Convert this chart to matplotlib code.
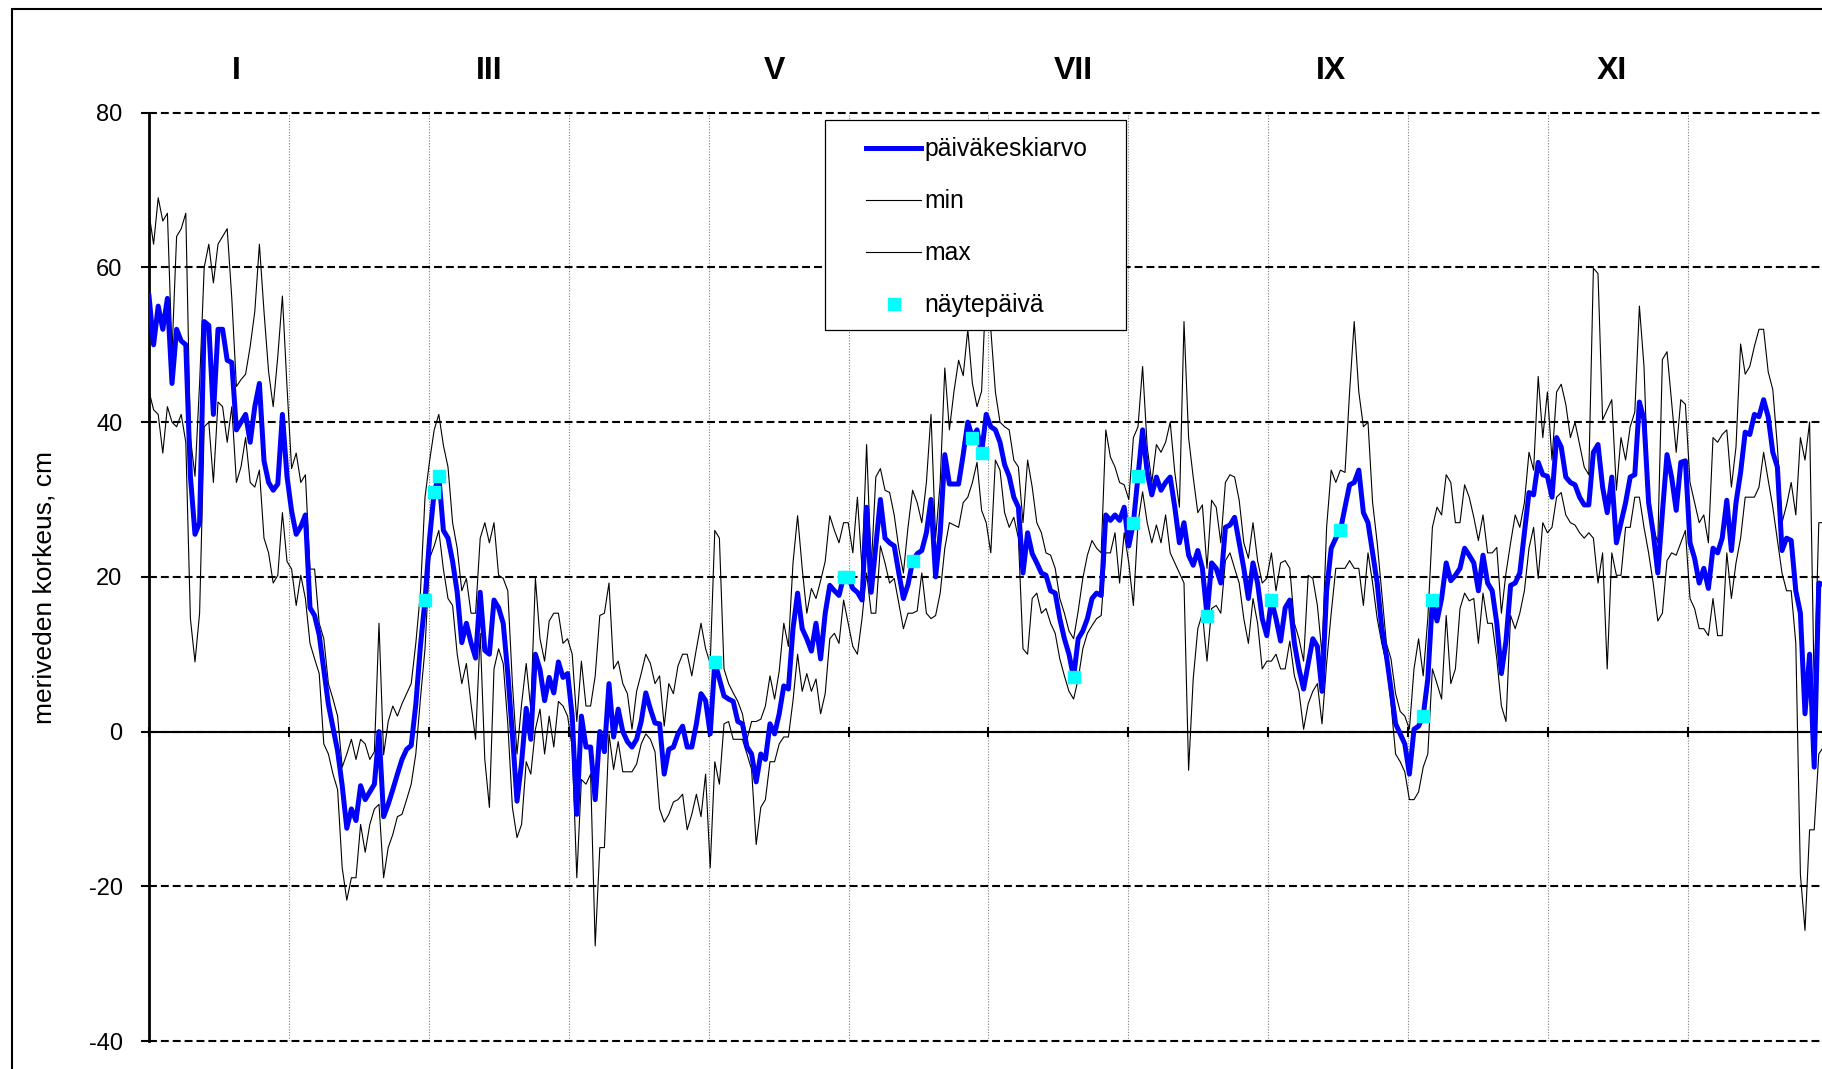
import numpy as np
import matplotlib
matplotlib.use("Agg")
import matplotlib.pyplot as plt
from matplotlib.patches import Rectangle
from matplotlib.lines import Line2D

plt.rcParams['font.family'] = ['Liberation Sans', 'DejaVu Sans']
plt.rcParams['axes.unicode_minus'] = False

# daily mean sea level (cm), one value per day of the year
mean_level = [
    56.3, 50, 55, 52, 56, 45, 52, 50.5, 50, 33, 25.5, 27, 53, 52.5, 41, 52, 52, 48, 47.7, 39, 40, 41, 37.4, 42, 45, 35, 32.2, 31.2, 32, 41, 33,
    28.5, 25.5, 26.5, 28, 16, 15, 12.5, 8, 3.5, 0.5, -2.5, -7, -12.5, -10, -11.5, -7, -8.8, -7.8, -6.8, 0, -11, -9.4, -7.5, -5.5, -3.6, -2.3, -1.8, 3.5, 11, 17,
    25, 31, 33, 26, 25, 22, 18, 11.5, 14, 11.5, 9.5, 18, 10.5, 10, 17, 16, 14, 7.5, -0.3, -9, -4, 3, -1, 10, 8, 4, 7, 5, 9, 7,
    7.5, 2, -10.7, 2, -2, -2, -8.8, 0, -2.6, 6.2, -0.7, 2.9, 0, -1.3, -2, -1, 1.3, 5, 2.9, 1.1, 1, -5.5, -2.3, -2, -0.3, 0.7, -2, -2, 1, 4.9,
    4, -0.3, 9, 6.8, 4.6, 4.2, 3.9, 1.3, 1, -2, -2.9, -6.5, -2.9, -3.6, 1, -0.3, 2.3, 5.9, 5.5, 13.3, 17.9, 13.3, 12, 10.4, 14, 9.4, 15.3, 18.9, 18.2, 17.6, 20, 20,
    18.5, 18, 17, 29, 18, 24, 30, 25, 24.4, 24, 20.5, 17.2, 19, 22, 23, 23.4, 25.7, 30, 20, 25.7, 35.8, 32, 32, 32, 35.8, 40, 38, 39, 36, 41,
    39.4, 39, 37.4, 34.5, 33, 30.3, 29, 20.5, 25.7, 23, 21.8, 20.5, 20.2, 18.2, 17.9, 14.6, 12, 10, 7, 12, 13, 14.6, 17.2, 17.9, 17.6, 28, 27.3, 28, 27.3, 29, 24,
    27, 33, 39, 33.5, 30.6, 32.9, 31.2, 32.2, 32.9, 29, 24.4, 27, 22.8, 21.5, 23.4, 21.1, 15, 21.8, 21.1, 19.2, 26.4, 26.7, 27.7, 24.4, 21.1, 17.2, 21.8, 19.2, 14.6, 12.4,
    17, 14.6, 11.7, 16, 17, 11.4, 8.1, 5.5, 8.8, 12, 11, 5.2, 18.2, 23.7, 25, 26, 29, 31.9, 32.2, 33.8, 28.3, 27, 23.1, 19.2, 13.3, 9.8, 5.5, 1, -0.3, -1.6, -5.5,
    0.3, 0.7, 2, 6.8, 17, 14.3, 17.2, 21.8, 19.5, 20.2, 21.1, 23.7, 22.8, 21.8, 18.2, 22.8, 19.2, 18.2, 14, 7.5, 11.7, 18.9, 19.2, 20.5, 25.7, 30.9, 30.6, 34.8, 33.2, 33,
    30.3, 38, 36.8, 32.9, 32.2, 31.9, 30.3, 29.3, 29.3, 36.1, 37.1, 31.6, 28.3, 32.9, 24.4, 27, 29.6, 32.9, 33.2, 42.6, 40.3, 29.6, 25.7, 20.5, 28.3, 35.8, 32.9, 28.6, 34.8, 35,
    24.4, 22.4, 19.2, 21.1, 18.5, 23.7, 23.1, 25, 29.9, 23.4, 29.6, 33.5, 38.7, 38.4, 41, 40.7, 42.9, 40.7, 36.1, 34.2, 23.4, 25, 24.7, 18.2, 15.3, 2.3, 10, -4.6, 19.2, 19,
]

min_level = [
    44, 41.6, 41, 36, 42, 40, 39.4, 41, 37.4, 14.6, 9, 15.3, 39.4, 40, 32.2, 42.6, 42, 37.4, 42, 32.2, 34.2, 38, 32.2, 31.6, 33.8, 25, 23.1, 19.2, 20.2, 28.3, 22,
    21, 16.3, 20.2, 17.2, 11.4, 9.4, 7.5, -1.6, -2.9, -5.5, -7.5, -17.6, -21.8, -18.9, -18.9, -12, -15.6, -12, -10, -9.4, -18.9, -15, -13.3, -11, -10.7, -8.8, -6.8, -2.9, 4.2,
    10.7, 22.4, 24, 26, 21, 17.2, 16.3, 10, 6.2, 8.8, 3.6, -1, 12.7, -3.6, -9.8, 8.1, 10.7, 8.8, 1, -9.8, -13.7, -12, -3.9, -5.5, 0.3, 2.9, -2.9, 2, -2, 3.9, 3.3,
    2, -2, -18.9, -6.2, -6.8, -5.5, -27.7, -15, -15, -0.3, -4.9, -1.3, -5.2, -5.2, -5.2, -4.2, -1.6, -0.3, -1, -2.6, -10, -11.7, -10.7, -9.1, -8.8, -8.1, -12.7, -10.7, -8.1, -11,
    -5.5, -17.6, -3.9, -6.8, 1, 1.3, -1, -1, -1, -2.9, -4.9, -14.6, -9.8, -8.8, -3.9, -3.9, -1.6, -0.7, -0.7, 4, 10, 5.2, 7.5, 5.2, 6.8, 2.3, 4.9, 12, 12.7, 11.4, 17,
    14, 11, 10, 14.6, 20.5, 15.3, 15.3, 24, 21.8, 19.2, 19.8, 16.6, 13.3, 15.3, 15.3, 15.6, 20.5, 15.3, 14.6, 15, 17.9, 23.7, 27, 26.7, 26.4, 29.6, 30.3, 32.2, 34.8, 28.6, 27,
    23.1, 35.1, 33.8, 28.3, 26.4, 27.7, 25, 10.7, 10, 17.2, 17.9, 15.3, 15.9, 14, 12.7, 9.4, 7.2, 5.2, 4.2, 6.8, 10.7, 12.7, 13.7, 14.6, 15, 23.1, 23.1, 25.7, 19.2, 25.7, 21.8,
    16.3, 27, 31, 27, 24.4, 26.7, 24.4, 28, 23.1, 21.8, 20.5, 19.2, -5, 6.8, 13.3, 15.3, 9.1, 15.9, 16.3, 15.3, 22.1, 23.1, 21.1, 19.2, 14.6, 11.4, 17.2, 14, 8.1, 9.1,
    9.1, 10, 8.1, 8.1, 11.7, 7.2, 5.2, 0.3, 3.6, 5.2, 6.2, 1, 8.8, 15.3, 21.1, 21.1, 21.1, 22.1, 21.1, 21.1, 16.3, 23.1, 19.2, 14.6, 11.4, 8.8, 3.6, -2.9, -3.9, -5.2, -8.8,
    -8.8, -7.8, -4.6, -2.9, 8.1, 6.2, 4.2, 15, 6.2, 8.1, 15.9, 17.9, 16.9, 17.2, 11.4, 17.9, 14, 14, 9.4, 3.3, 1.3, 15, 13.3, 15.3, 18.2, 23.7, 26.4, 19.8, 27, 25.7,
    26.4, 30.3, 30.9, 28, 27, 26.7, 25.7, 25, 25.7, 25, 19.2, 23.1, 8.1, 23.1, 20.2, 20.2, 26.4, 26.4, 30.3, 30.3, 26.4, 23.1, 19.2, 14.3, 15.3, 22.1, 23.1, 22.8, 24.4, 26,
    17.2, 15.9, 13.3, 13.3, 12.4, 17.2, 12.4, 12.4, 23.1, 17.2, 21.8, 25, 30.3, 30.3, 30.3, 31.6, 36.1, 32.5, 29, 24.7, 20.5, 18.2, 18.2, 11.4, -18.5, -25.7, -12.7, -12.7, -2.9, -2,
]

max_level = [
    67, 63, 69, 66, 67, 49, 64, 65, 67, 38, 33, 45, 60, 63, 58, 63, 64, 65, 56, 44.6, 45.5, 46.2, 49.8, 54.3, 63, 54.3, 46.5, 42, 48.5, 56.3, 44.6,
    34, 36, 32.2, 33.2, 21, 21, 14, 12, 6.2, 4.2, 2, -4.6, -2.9, -1, -3.6, -1, -1.6, -3.6, -2.6, 14, -3, 1.3, 3.3, 2, 3.6, 4.9, 6.2, 11.4, 17.9,
    30.3, 35, 39, 41, 37, 34.2, 27, 23.7, 18.2, 19.8, 15.3, 15.3, 25, 27, 24.4, 27, 20.2, 19.8, 18.2, 6.2, -2.9, 3.6, 8.8, 2.9, 19.8, 12, 9.1, 14.3, 15.3, 15.3, 11.4,
    12, 10, 1.3, 9.1, 3.3, 3.3, 7.2, 15, 15.3, 19.2, 8.1, 9.1, 6.2, 4.9, 0.3, 5.2, 7.5, 10, 8.8, 6.2, 7.2, 0.7, 6.2, 4.9, 8.5, 10, 10, 7.2, 10.7, 14,
    10.7, 8.8, 26, 25, 8.1, 6.2, 5, 3.9, 2.3, -1, 1.3, 1.3, 1.6, 3.3, 7.2, 4.2, 7.8, 14, 11, 21.8, 27.9, 21.1, 15.3, 18.5, 17.2, 19.5, 22, 27.9, 26, 24.4, 27,
    27, 23.1, 30.3, 21.1, 37.1, 21.1, 32.9, 34, 31.2, 30.9, 28, 23.7, 20.5, 26.4, 31.2, 29.6, 27, 32.2, 41, 25, 32.2, 47, 39, 44, 48, 46, 52, 45, 42, 44, 58,
    52, 43.9, 40, 39.4, 39, 35.1, 34.2, 27, 35.1, 31.6, 27, 25.7, 23.1, 22.8, 21.1, 17.2, 15.3, 13, 12, 15.6, 19.8, 22.8, 24.7, 23.7, 23.1, 39, 35.5, 34.2, 32.2, 31.9, 30,
    38, 39.4, 47.2, 36.8, 32.2, 37.1, 36.1, 37.4, 40, 33.5, 29, 53, 38, 32.9, 28.3, 29.3, 21.1, 29.9, 29, 24.4, 32.2, 33.2, 32.9, 29.9, 24.4, 22.4, 27, 22.1, 19.2, 19.8,
    23.1, 18.2, 21.8, 22.1, 21.1, 14, 12, 9.1, 20.2, 19.8, 16.3, 10, 26.4, 33.8, 32.2, 33.8, 33.5, 43.9, 53, 43.9, 39.4, 40, 29.6, 24.4, 17.9, 11.4, 9.4, 4.9, 2.6, 2, 0.3,
    8.1, 12, 7.2, 14.6, 26.4, 29, 28, 33.2, 32.2, 27, 27, 31.9, 30.3, 27.7, 24.7, 28, 23.1, 23.1, 23.8, 15.3, 20.5, 24.4, 28, 26.4, 29.6, 36.1, 33.8, 45.9, 38, 43.9,
    35.1, 43.9, 44.9, 42.3, 38, 40, 37.1, 34.2, 33.2, 59.9, 59.2, 40.3, 41.6, 42.9, 31.2, 38, 35.1, 39.4, 41.3, 55, 47.2, 30.3, 26.4, 24.4, 48.1, 49.1, 42.6, 36.1, 42.9, 42.3,
    32.2, 29.6, 27, 28, 24.4, 38, 37.4, 38.4, 39, 31.6, 36.8, 50.1, 46.2, 47.2, 49.8, 52, 52, 46.5, 44.2, 36.8, 27, 29.3, 32.2, 28, 38, 35.1, 40, 5.5, 27, 27,
]

# sampling days (day of year, 0 = 1 Jan) and the mean level on them
sample_days = [60, 62, 63, 123, 151, 152, 166, 179, 181, 201, 214, 215, 230, 244, 259, 277, 279]
sample_vals = [17, 31, 33, 9, 20, 20, 22, 38, 36, 7, 27, 33, 15, 17, 26, 2, 17]

month_labels = ['I', 'III', 'V', 'VII', 'IX', 'XI']
month_label_pos = [19, 74, 136, 201, 257, 318]   # day of year where the label sits

days = np.arange(len(mean_level))
month_edges = [k * 365 / 12 for k in range(13)]

W, H = 1822, 1069
fig = plt.figure(figsize=(W / 100, H / 100), dpi=100)
ax = fig.add_axes([149 / W, 28 / H, (1828 - 149) / W, (1041 - 112.7) / H])
ax.set_xlim(0, 365)
ax.set_ylim(-40, 80)

# outer frame of the chart area (right and bottom edges fall outside the picture)
fig.add_artist(Rectangle((11.6 / W, -0.1), 1.2, 1.1 - 9.3 / H, transform=fig.transFigure,
                         fill=False, edgecolor='black', lw=1.5))

ax.plot(days, min_level, color='black', lw=0.8, zorder=2)
ax.plot(days, max_level, color='black', lw=0.8, zorder=2)
ax.plot(days, mean_level, color='#0000FF', lw=3.6, zorder=3)
ax.plot(sample_days, sample_vals, ls='none', marker='s', ms=9, color='#00FFFF', mec='#00FFFF', zorder=4)

# axes styling
for s in ['top', 'right']:
    ax.spines[s].set_visible(False)
ax.spines['bottom'].set_position(('data', 0))
ax.spines['bottom'].set_linewidth(1.5)
ax.spines['left'].set_linewidth(2)

ax.set_xticks(month_edges)
ax.set_xticklabels([])
ax.tick_params(axis='x', direction='inout', length=7, width=1.5)
ax.set_yticks(range(-40, 81, 20))
ax.tick_params(axis='y', direction='out', length=6, width=1.5, pad=13, labelsize=17)

ax.xaxis.grid(True, color='#808080', linestyle=(0, (1, 1.5)), lw=0.8)
ax.yaxis.grid(True, color='black', linestyle=(0, (3.8, 1.9)), lw=1.5)
ax.set_axisbelow(True)
for gl in ax.get_ygridlines():
    gl.set_clip_on(False)

for lab, pos in zip(month_labels, month_label_pos):
    ax.text(pos, 1.045, lab, transform=ax.get_xaxis_transform(), ha='center', va='center',
            fontsize=23, fontweight='bold')

fig.text(45 / W, 1 - 587 / H, 'meriveden korkeus, cm', rotation=90, ha='center', va='center', fontsize=19)

# legend with a plain box drawn behind it
ax.add_patch(Rectangle((825 / W, 1 - 330 / H), 301 / W, 210 / H, transform=fig.transFigure,
                       facecolor='white', edgecolor='black', lw=0.9, zorder=5, clip_on=False))
handles = [Line2D([], [], color='#0000FF', lw=3.6),
           Line2D([], [], color='black', lw=0.8),
           Line2D([], [], color='black', lw=0.8),
           Line2D([], [], ls='none', marker='s', ms=9, color='#00FFFF')]
leg = ax.legend(handles, ['päiväkeskiarvo', 'min', 'max', 'näytepäivä'],
                loc='upper left', bbox_to_anchor=(854 / W, 1 - 125 / H), bbox_transform=fig.transFigure,
                frameon=False, borderpad=0, handlelength=2.2, handletextpad=0.15, labelspacing=1.13,
                fontsize=17.8)
leg.set_zorder(6)

fig.savefig('out.png', dpi=100)
